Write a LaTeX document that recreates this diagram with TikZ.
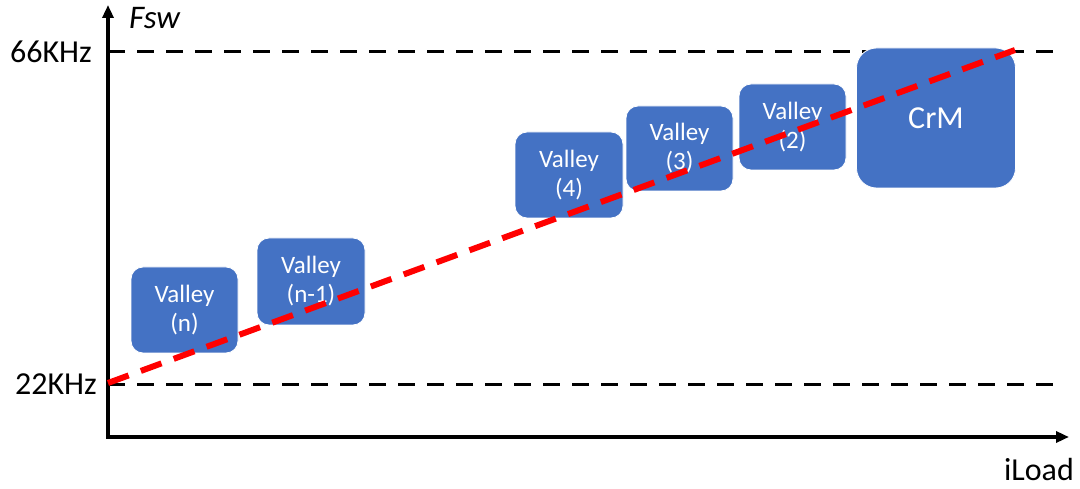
\documentclass[tikz,border=0pt]{standalone}
\usepackage{fontspec}
\setmainfont{Carlito}
\usepackage{xcolor}
\usepackage{tikz}
\usetikzlibrary{arrows.meta, positioning}
\definecolor{valleyblue}{RGB}{68, 114, 196}
\definecolor{slopered}{RGB}{255, 0, 0}

\begin{document}
\begin{tikzpicture}[
    x=1pt, y=-1pt,
    valley/.style={draw=white, line width=0.8pt, fill=valleyblue, rounded corners=12pt, text=white, align=center, font=\fontsize{25}{29}\selectfont, inner sep=0pt},
    axis/.style={line width=3.5pt, >={Triangle[length=13pt,width=11pt]}},
    level/.style={dash pattern=on 17pt off 12pt, line width=3pt},
    slope/.style={draw=slopered, dash pattern=on 22pt off 13pt, line width=6pt},
    label/.style={font=\fontsize{32}{36}\selectfont, inner sep=0pt}
]
    \useasboundingbox (0,0) rectangle (1080,489);

    % axes
    \coordinate (origin) at (108,437);
    \coordinate (ytop) at (108,5);
    \coordinate (xend) at (1069,437);
    \draw[axis, ->] (origin) -- (ytop);
    \draw[axis, ->] ([xshift=-1.75pt]origin) -- (xend);
    \node[label, font=\fontsize{33}{36}\selectfont\itshape, anchor=west] (fsw) at (129,18) {Fsw};
    \node[label, anchor=center] (iload) at (1039,470) {iLoad};

    % frequency levels
    \coordinate (hiL) at (108,52);
    \coordinate (hiR) at (1060,52);
    \coordinate (loL) at (108,384);
    \coordinate (loR) at (1060,384);
    \draw[level] (hiL) -- (hiR);
    \draw[level] (loL) -- (loR);
    \node[label, anchor=east] (f66) at (92,52) {66KHz};
    \node[label, anchor=east] (f22) at (97,384) {22KHz};

    % valley boxes
    \node[valley, minimum width=107pt, minimum height=86pt] (vn) at (184.5,310) {Valley\\(n)};
    \node[valley, minimum width=108pt, minimum height=87pt] (vn1) at (311,281.5) {Valley\\(n-1)};
    \node[valley, minimum width=108pt, minimum height=86pt] (v4) at (569,175) {Valley\\(4)};
    \node[valley, minimum width=107pt, minimum height=85pt] (v3) at (679.5,148.5) {Valley\\(3)};
    \node[valley, minimum width=107pt, minimum height=86pt] (v2) at (792.5,127) {Valley\\(2)};
    \node[valley, minimum width=159pt, minimum height=140pt, rounded corners=20pt, font=\fontsize{32}{36}\selectfont] (crm) at (936,118) {CrM};

    % switching frequency slope
    \coordinate (slopelo) at (108,383);
    \coordinate (slopehi) at (1015,50);
    \draw[slope] (slopelo) -- (slopehi);
\end{tikzpicture}
\end{document}
